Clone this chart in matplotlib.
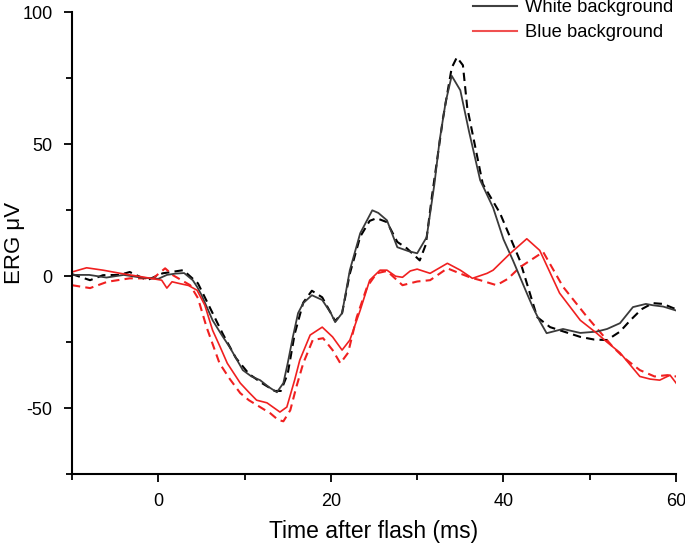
import matplotlib
matplotlib.use("Agg")
import matplotlib.pyplot as plt
from matplotlib.ticker import MultipleLocator
from matplotlib.lines import Line2D

plt.rcParams['font.family'] = ['Liberation Sans', 'DejaVu Sans']
plt.rcParams['axes.unicode_minus'] = False

# White background, solid
ws_t = [-10, -8, -6, -4, -2, 0, 1, 2, 3, 4, 4.5, 5, 6.3, 7.3, 8.3, 9.8, 10.8, 11.8, 12.8, 13.75,
        14.5, 15, 15.6, 16.2, 16.8, 17.8, 19, 20, 20.5, 21.3, 22.2, 23.4, 24.8, 25.5, 26.5, 27.7,
        29, 30, 31.1, 32, 32.6, 33.3, 34, 35, 36, 37.3, 38.8, 40, 41.1, 42.7, 43.4, 44.2, 45,
        46.9, 48.9, 50.8, 52, 53.5, 55, 56.5, 57.3, 58.5, 60]
ws_v = [0.5, 0.5, -0.5, 0.5, -0.5, -1, 0.5, 1, 1.2, -1.5, -4, -7, -16.7, -22, -27, -35.6, -38,
        -39.4, -42, -44, -40.5, -33, -23, -14, -10.2, -7.2, -9, -14, -17.4, -14, 2.3, 16.3, 25,
        24, 21.2, 11, 9.5, 8.7, 14.8, 35, 51.5, 66, 76, 70.5, 55, 36.4, 26, 14, 6, -6.4, -11.7,
        -17, -21.6, -20, -21.5, -21, -20, -17.8, -11.7, -10.5, -11, -11.5, -13]

# White background, dashed
wd_t = [-10, -7.9, -6.4, -4.5, -3.3, -1.3, 0.5, 2.9, 4.6, 6, 7.5, 9, 10.5, 12, 13.5, 14.2, 15,
        15.8, 16.8, 17.8, 19, 20.5, 21.3, 22.2, 23.4, 24.5, 25.3, 26.5, 27.7, 28.8, 30.3, 31,
        31.7, 33, 34, 34.6, 35.3, 35.8, 37.6, 39.6, 41.9, 43.9, 45.4, 47, 48.9, 50.5, 52, 53.5,
        54.7, 56, 57.3, 58.5, 59.6, 60]
wd_v = [0.8, -1.5, 0.4, 0.5, 1.6, -1.5, 1.1, 2.3, -2.7, -12, -22, -31, -37, -40.5, -43.5, -43.5,
        -37, -22, -10, -5.5, -8, -17, -14, 1, 15, 21, 22, 20.5, 13, 10.6, 6, 12, 30, 60, 79, 83,
        80, 64, 35, 23.9, 6, -15.5, -19.3, -21, -23, -24, -24.2, -21, -16.7, -12.5, -10.2,
        -10.5, -12, -12.5]

# Blue background, solid
bs_t = [-10, -8.3, -6.4, -4.4, -2.5, 0.4, 1, 1.6, 2.5, 3.5, 4.5, 5.4, 6.3, 7.2, 8, 9.5, 10.5,
        11.4, 12.6, 14.1, 14.9, 15.8, 16.4, 17.6, 19, 20.2, 21.3, 22.2, 23.4, 24.5, 25.7, 26.5,
        27.5, 28.3, 29.2, 30, 31.5, 32.5, 33.5, 35, 36.4, 38.1, 38.8, 40.8, 42.7, 44.2, 46.5,
        48.9, 50.8, 52, 53.5, 55.8, 57, 58.1, 59.3, 60]
bs_v = [1.6, 3.2, 2.3, 1.1, 0.1, -1.5, -4.5, -2.1, -2.8, -3.5, -5.3, -11, -20.5, -27, -33, -40.5,
        -44, -47, -48, -51.5, -49.6, -39.4, -31.8, -22.3, -19.3, -23, -28, -24.2, -12.9, -1.5,
        2.3, 2.3, 0, -0.4, 2, 2.7, 1.1, 3, 4.9, 2.3, -0.8, 1.1, 2.3, 8.7, 14.2, 9.8, -6.4,
        -16.7, -21.6, -25, -29, -38, -39, -39.4, -37.5, -40.5]

# Blue background, dashed
bd_t = [-10, -7.9, -5.9, -3.3, -0.6, 0.8, 1.7, 3.7, 4.6, 5.6, 7.1, 8.3, 9.5, 10.5, 11.8, 13,
        13.9, 14.5, 15.3, 16, 16.8, 17.9, 19.1, 20.2, 21.1, 22, 23, 24.2, 25.3, 26.5, 28.3, 30,
        31.5, 33.5, 35, 36.1, 37.3, 39.2, 40.5, 41.9, 44.6, 46.9, 49.7, 52.7, 54, 55.8, 57.5,
        59, 60]
bd_v = [-3.4, -4.5, -2.1, -0.8, -0.8, 3, 0.4, -3.4, -8.3, -19.3, -33, -39, -44.3, -47, -49.6,
        -52, -54.5, -55, -50.8, -42, -33, -24.2, -23.5, -28, -33, -29, -15.5, -4, 1.1, 2, -3.4,
        -2, -1.5, 3, 1, -0.4, -1.5, -3.4, -1, 3.4, 9.2, -4, -15.5, -26.9, -31, -35.6, -38,
        -37.5, -38]

labels = ["White background", "Blue background"]
x_ticks = [0, 20, 40, 60]
y_ticks = [-50, 0, 50, 100]

fig = plt.figure(figsize=(6.85, 5.43), dpi=100)
ax = fig.add_axes([0.105, 0.127, 0.882, 0.85])

black_c = '#3a3a3a'
red_c = '#f02020'
kw = dict(solid_joinstyle='round', dash_joinstyle='round')
ax.plot(wd_t, wd_v, color='black', lw=1.5, ls=(0, (4, 2.5)), **kw)
ax.plot(bd_t, bd_v, color=red_c, lw=1.5, ls=(0, (4, 2.5)), **kw)
ax.plot(ws_t, ws_v, color=black_c, lw=1.3, **kw)
ax.plot(bs_t, bs_v, color=red_c, lw=1.2, **kw)

ax.set_xlim(-10, 60)
ax.set_ylim(-75, 100)
ax.set_xticks(x_ticks)
ax.set_yticks(y_ticks)
ax.xaxis.set_minor_locator(MultipleLocator(10))
ax.yaxis.set_minor_locator(MultipleLocator(25))
ax.spines['top'].set_visible(False)
ax.spines['right'].set_visible(False)
for s in ['left', 'bottom']:
    ax.spines[s].set_linewidth(1.5)
ax.tick_params(which='major', direction='out', length=6, width=1.3, labelsize=13, pad=8)
ax.tick_params(which='minor', direction='out', length=4, width=1.3)
ax.set_xlabel("Time after flash (ms)", fontsize=16.5)
ax.set_ylabel("ERG \u03bcV", fontsize=16)
ax.xaxis.set_label_coords(0.5, -0.100)
ax.yaxis.set_label_coords(-0.078, 0.5)

h1 = Line2D([], [], color='#404040', lw=1.5)
h2 = Line2D([], [], color='#f05050', lw=1.5)
fig.legend([h1, h2], labels, loc='upper left', bbox_to_anchor=(0.667, 1.032),
           frameon=False, fontsize=13.2, handlelength=2.4, handletextpad=0.4,
           labelspacing=0.45)

fig.savefig("out.png", dpi=100)
